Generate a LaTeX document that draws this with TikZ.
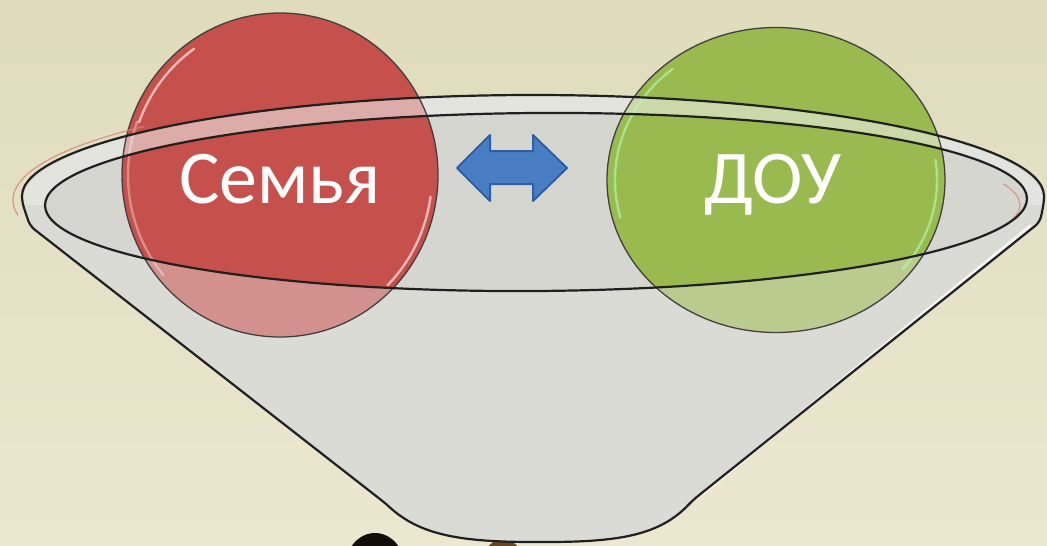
\documentclass[tikz,border=0pt]{standalone}
\usepackage{fontspec}
\setmainfont{Carlito}
\definecolor{bgtop}{RGB}{223,219,188}
\definecolor{bgbot}{RGB}{236,232,208}
\definecolor{glass}{RGB}{214,214,208}
\definecolor{glassover}{RGB}{226,226,220}
\definecolor{redc}{RGB}{198,80,75}
\definecolor{greenc}{RGB}{152,186,78}
\definecolor{arrowfill}{RGB}{72,126,196}
\definecolor{arrowline}{RGB}{46,96,160}
\definecolor{inkline}{RGB}{32,32,32}
\definecolor{pinkline}{RGB}{214,140,120}
\tikzset{
  rimline/.style={draw=inkline, line width=2.2pt},
  ballborder/.style={draw=black!75, line width=1.3pt},
  gloss/.style={draw=white, line width=2.4pt, opacity=0.6, line cap=round},
  balltext/.style={text=white, font=\fontsize{76}{90}\selectfont, anchor=base, inner sep=0pt}
}
\begin{document}
\begin{tikzpicture}[x=1pt,y=-1pt]
\useasboundingbox (0,0) rectangle (1047,546);
\clip (0,0) rectangle (1047,546);
% background
\shade[top color=bgtop, bottom color=bgbot] (0,0) rectangle (1047,546);
% heads at the bottom
\fill[black!90!brown] (375,568) ellipse[x radius=30, y radius=35];
\fill[brown!55!black] (503,574) ellipse[x radius=24, y radius=35];
% funnel body
\def\funnelpath{(22,202) arc[start angle=180,end angle=360,x radius=511,y radius=107]
  -- (1040,222) -- (693,500) .. controls (660,535) and (620,542) .. (540,542)
  .. controls (460,542) and (420,535) .. (385,503) -- (30,226) -- cycle}
\fill[glass, rounded corners=6pt] \funnelpath;
% balls
\fill[redc] (280,175) ellipse[x radius=158, y radius=162];
\fill[greenc] (776,180) ellipse[x radius=169, y radius=152.5];
% glass overlay (funnel minus inner ellipse)
\fill[glassover, opacity=0.45, even odd rule, rounded corners=6pt] \funnelpath
  [sharp corners] (536,202) [rotate around={0.4:(536,202)}] ellipse[x radius=491, y radius=89];
% lighter rim band at the top
\begin{scope}
\clip (0,0) rectangle (1047,204);
\fill[white, opacity=0.25, even odd rule] (533,202) ellipse[x radius=511, y radius=107]
  (536,202) [rotate around={0.4:(536,202)}] ellipse[x radius=491, y radius=89];
\end{scope}
% ball borders
\draw[ballborder] (280,175) ellipse[x radius=158, y radius=162];
\draw[ballborder] (776,180) ellipse[x radius=169, y radius=152.5];
% gloss
\draw[gloss] ([shift={(200:150 and 154)}]280,175) arc[start angle=200,end angle=235,x radius=150,y radius=154];
\draw[gloss, opacity=0.35] ([shift={(140:152 and 156)}]280,175) arc[start angle=140,end angle=200,x radius=152,y radius=156];
\draw[gloss] ([shift={(8:152 and 156)}]280,175) arc[start angle=8,end angle=45,x radius=152,y radius=156];
\draw[gloss, draw=green!30!white] ([shift={(165:161 and 145)}]776,180) arc[start angle=165,end angle=230,x radius=161,y radius=145];
\draw[gloss, draw=green!30!white] ([shift={(-8:161 and 145)}]776,180) arc[start angle=-8,end angle=38,x radius=161,y radius=145];
% funnel side highlight
\draw[white, opacity=0.7, line width=3pt, line cap=round] (702,494) -- (1030,226);
% faint red rim lines
\draw[pinkline, line width=1.3pt, opacity=0.8] ([shift={(172:512 and 110)}]525,200) arc[start angle=172,end angle=222,x radius=512,y radius=110];
\draw[pinkline, line width=1.3pt, opacity=0.8] ([shift={(-15:490 and 82)}]530,205) arc[start angle=-15,end angle=40,x radius=490,y radius=82];
% funnel outlines
\draw[rimline, rounded corners=6pt] \funnelpath;
\draw[rimline] (536,202) [rotate around={0.4:(536,202)}] ellipse[x radius=491, y radius=89];
% texts
\node[balltext] (fam) at (280,203) {Семья};
\node[balltext] (dou) at (773,203) {ДОУ};
% double arrow
\filldraw[fill=arrowfill, draw=arrowline, line width=2pt, line join=round]
  (457,168) -- (490,135) -- (490,151) -- (533,151) -- (533,135) -- (567,168)
  -- (533,201) -- (533,184) -- (490,184) -- (490,201) -- cycle;
\end{tikzpicture}
\end{document}
